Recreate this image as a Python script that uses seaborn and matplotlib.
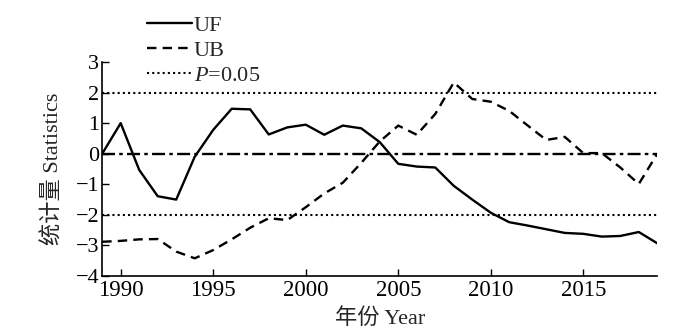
import matplotlib
matplotlib.use("Agg")
import matplotlib.pyplot as plt
import seaborn as sns
import pandas as pd

# data
years = list(range(1989, 2020))
uf = [0.0, 1.0, -0.53, -1.39, -1.5, -0.1, 0.78, 1.47, 1.45, 0.63, 0.86, 0.95,
      0.62, 0.92, 0.83, 0.38, -0.33, -0.42, -0.45, -1.05, -1.5, -1.93, -2.24,
      -2.35, -2.47, -2.59, -2.62, -2.71, -2.69, -2.56, -2.93]
ub = [-2.88, -2.85, -2.8, -2.79, -3.2, -3.42, -3.15, -2.8, -2.42, -2.11, -2.17,
      -1.75, -1.3, -0.95, -0.3, 0.4, 0.92, 0.62, 1.3, 2.33, 1.79, 1.7, 1.4,
      0.92, 0.45, 0.55, 0.02, 0.02, -0.45, -0.99, 0.0]
p_level = 2.0
xticks = [1990, 1995, 2000, 2005, 2010, 2015]
yticks = [-4, -3, -2, -1, 0, 1, 2, 3]

df = pd.DataFrame({"Year": years, "UF": uf, "UB": ub})

sns.set_style("ticks")
plt.rcParams["font.family"] = ["Liberation Serif", "Noto Sans CJK SC"]
plt.rcParams["mathtext.fontset"] = "custom"
plt.rcParams["mathtext.it"] = "Liberation Serif:italic"
plt.rcParams["mathtext.rm"] = "Liberation Serif"

fig = plt.figure(figsize=(7, 3.35), dpi=100)
ax = fig.add_axes([0.146, 0.176, 0.793, 0.639])

sns.lineplot(data=df, x="Year", y="UF", ax=ax, color="black", lw=1.7, label="UF")
sns.lineplot(data=df, x="Year", y="UB", ax=ax, color="black", lw=1.7,
             linestyle=(0, (4, 2.6)), label="UB")
ax.axhline(p_level, color="black", lw=1.5, linestyle=(0, (1, 1.5)), label="$P$=0.05")
ax.axhline(-p_level, color="black", lw=1.5, linestyle=(0, (1, 1.5)))
ax.axhline(0, color="black", lw=1.7, linestyle=(0, (5.5, 1.8, 1.5, 1.8)))

ax.set_xlim(1989, 2019)
ax.set_ylim(-4, 3)
ax.set_xticks(xticks)
ax.set_yticks(yticks)
ax.tick_params(direction="in", length=5, width=1, colors="black")
ax.tick_params(axis="x", labelsize=16.5, pad=3)
ax.tick_params(axis="y", labelsize=16, pad=2)
for s in ["top", "right"]:
    ax.spines[s].set_visible(False)
for s in ["left", "bottom"]:
    ax.spines[s].set_linewidth(1.2)
    ax.spines[s].set_color("black")

ax.set_xlabel("年份 Year", fontsize=16, labelpad=5)
ax.set_ylabel("统计量 Statistics", fontsize=16, labelpad=9)

ax.legend(loc="upper left", bbox_to_anchor=(0.065, 1.26), frameon=False,
          fontsize=16, handlelength=2.0, handletextpad=0.1, labelspacing=0.2,
          borderaxespad=0)

fig.savefig("out.png", dpi=100)
